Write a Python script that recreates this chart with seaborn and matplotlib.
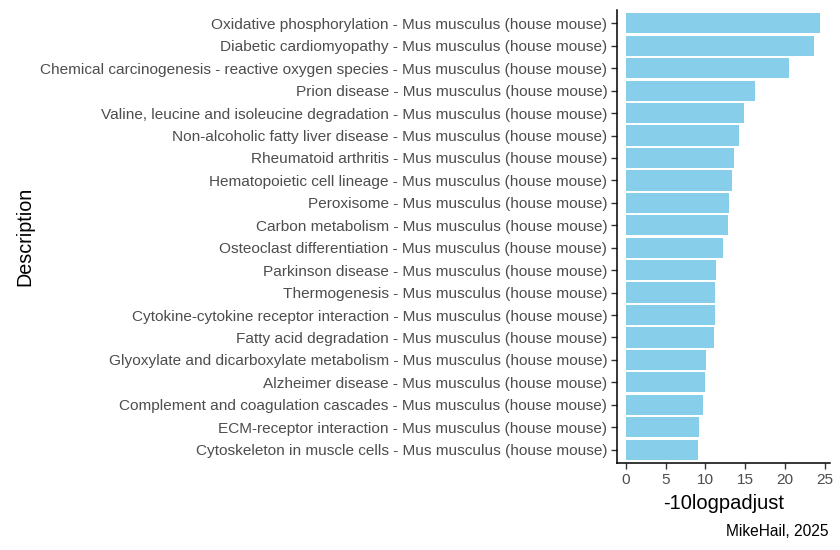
import matplotlib
matplotlib.use('Agg')
import matplotlib.pyplot as plt
import seaborn as sns
import pandas as pd

# ── data ───────────────────────────────────────────────────────────────────
PATHWAYS = [
    'Oxidative phosphorylation',
    'Diabetic cardiomyopathy',
    'Chemical carcinogenesis - reactive oxygen species',
    'Prion disease',
    'Valine, leucine and isoleucine degradation',
    'Non-alcoholic fatty liver disease',
    'Rheumatoid arthritis',
    'Hematopoietic cell lineage',
    'Peroxisome',
    'Carbon metabolism',
    'Osteoclast differentiation',
    'Parkinson disease',
    'Thermogenesis',
    'Cytokine-cytokine receptor interaction',
    'Fatty acid degradation',
    'Glyoxylate and dicarboxylate metabolism',
    'Alzheimer disease',
    'Complement and coagulation cascades',
    'ECM-receptor interaction',
    'Cytoskeleton in muscle cells',
]
SPECIES = ' - Mus musculus (house mouse)'
SCORES = [24.4, 23.6, 20.5, 16.2, 14.8, 14.2, 13.6, 13.3, 13.0, 12.8,
          12.2, 11.3, 11.2, 11.2, 11.1, 10.1, 9.9, 9.7, 9.2, 9.1]
X_TICKS = [0, 5, 10, 15, 20, 25]

df = pd.DataFrame({
    'Description': [p + SPECIES for p in PATHWAYS],
    'score': SCORES,
})

# ── plot ───────────────────────────────────────────────────────────────────
sns.set_theme(style='white')
plt.rcParams['font.family'] = ['Liberation Sans', 'DejaVu Sans']

fig = plt.figure(figsize=(8.4, 5.5), dpi=100)
ax = fig.add_axes([0.7345, 0.158, 0.253, 0.824])

sns.barplot(data=df, x='score', y='Description', color='#87CEEB',
            saturation=1, width=0.9, edgecolor='none', ax=ax)

ax.set_xlim(-1.13, 25.6)
ax.set_ylim(19.6, -0.6)
ax.set_xticks(X_TICKS)
ax.tick_params(axis='both', which='both', length=4, width=1, color='#333333',
               labelcolor='#4D4D4D', labelsize=11.1, bottom=True, left=True, pad=3)

for side in ['top', 'right']:
    ax.spines[side].set_visible(False)
for side in ['left', 'bottom']:
    ax.spines[side].set_color('black')
    ax.spines[side].set_linewidth(1.1)

ax.set_xlabel('-10logpadjust', fontsize=14.5, color='black', labelpad=5)
ax.set_ylabel('Description', fontsize=14.2, color='black', labelpad=4)

fig.text(0.986, 0.02, 'MikeHail, 2025', ha='right', va='bottom',
         fontsize=11.2, color='black')

fig.savefig('out.png', dpi=100)
plt.close(fig)
